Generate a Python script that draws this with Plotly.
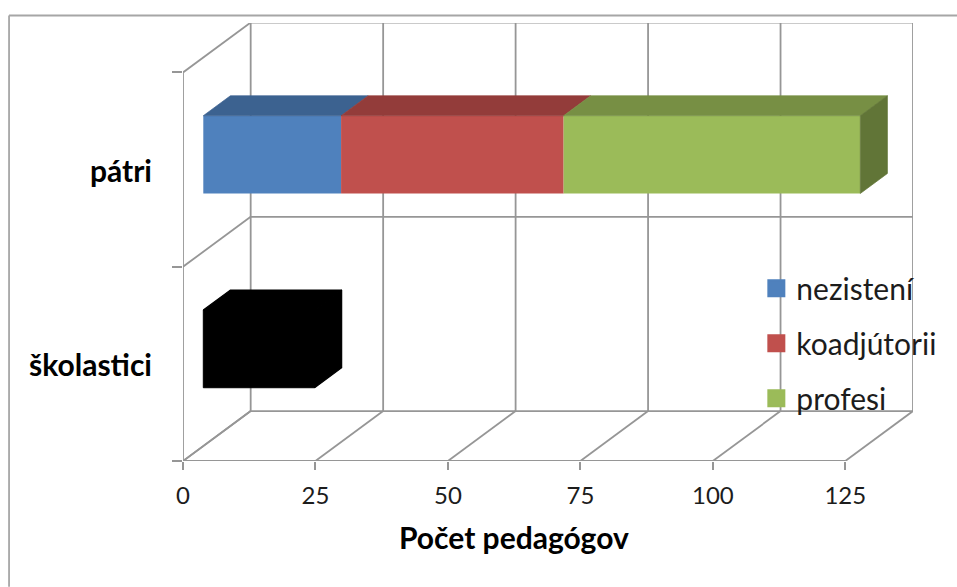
import plotly.graph_objects as go

categories = ["školastici", "pátri"]
series_names = ["nezistení", "koadjútorii", "profesi"]
nezisteni = [21, 26]
koadjutorii = [0, 42]
profesi = [0, 56]
x_ticks = [0, 25, 50, 75, 100, 125]
axis_title = "Počet pedagógov"

front_colors = {"nezistení": ["#000000", "#4f81bd"], "koadjútorii": ["#000000", "#c0504d"], "profesi": ["#000000", "#9bbb59"]}
top_colors = {"nezistení": ["#000000", "#3c6290"], "koadjútorii": ["#000000", "#933c3a"], "profesi": ["#000000", "#778f44"]}
side_colors = {"nezistení": ["#000000", "#31506f"], "koadjútorii": ["#000000", "#78312f"], "profesi": ["#000000", "#617537"]}
legend_colors = ["#4f81bd", "#c0504d", "#9bbb59"]

W, H = 957, 587
L, R, T, B = 182.5, 912.7, 22.5, 461.0
PX_X = (845 - 182.5) / 125
PX_Y = (461 - 72) / 2
DX = (912.7 - 845) / PX_X   # depth of the box in x units
DY = 50 / PX_Y              # depth of the box in y units
GAP, BAR_D, BAR_H = 0.3, 0.4, 0.4
GRID = "#969696"
DARK = "#1c1c1c"
FONT = "Lato"

fig = go.Figure()
shapes = []


def seg(x0, y0, x1, y1):
    shapes.append(dict(type="line", xref="x", yref="y", x0=x0, y0=y0, x1=x1, y1=y1,
                       layer="below", line=dict(color=GRID, width=1.8)))


for t in x_ticks:
    seg(t, 0, t + DX, DY)
    seg(t + DX, DY, t + DX, 2 + DY)
for lvl in range(len(categories) + 1):
    seg(0, lvl, DX, lvl + DY)
    seg(DX, lvl + DY, x_ticks[-1] + DX, lvl + DY)
seg(0, 0, 0, 2)
seg(0, 0, x_ticks[-1], 0)

# outer chart border (paper coordinates)
def px(v):
    return (v - L) / (R - L)

def py(v):
    return (B - v) / (B - T)

for x0, y0, x1, y1 in [(8.5, 15, 957, 15), (8.5, 15, 8.5, 587)]:
    shapes.append(dict(type="line", xref="paper", yref="paper", x0=px(x0), y0=py(y0), x1=px(x1), y1=py(y1),
                       layer="below", line=dict(color="#a6a6a6", width=1.8)))

values = {"nezistení": nezisteni, "koadjútorii": koadjutorii, "profesi": profesi}
offs_x, offs_y = GAP * DX, GAP * DY
bar_y = [i + 0.5 + offs_y for i in range(len(categories))]
cum = [0.0 for _ in categories]


def poly(xs, ys, color):
    fig.add_trace(go.Scatter(x=xs, y=ys, mode="lines", fill="toself", fillcolor=color,
                             line=dict(width=1.2 if color == "#000000" else 0.7, color=color),
                             hoverinfo="skip", showlegend=False))


for name in series_names:
    vals = values[name]
    fig.add_trace(go.Bar(orientation="h", y=bar_y, x=vals, base=[c + offs_x for c in cum], width=BAR_H,
                         marker=dict(color=front_colors[name], line=dict(width=[1, 0], color=front_colors[name])),
                         showlegend=False, name=name))
    for i, v in enumerate(vals):
        if v == 0:
            continue
        x0, x1 = cum[i] + offs_x, cum[i] + v + offs_x
        y_top = bar_y[i] + BAR_H / 2
        y_bot = bar_y[i] - BAR_H / 2
        ddx, ddy = BAR_D * DX, BAR_D * DY
        poly([x0, x0 + ddx, x1 + ddx, x1, x0], [y_top, y_top + ddy, y_top + ddy, y_top, y_top], top_colors[name][i])
        if name == "profesi" or i == 0:
            poly([x1, x1 + ddx, x1 + ddx, x1, x1],
                 [y_top, y_top + ddy, y_bot + ddy, y_bot, y_top], side_colors[name][i])
        cum[i] += v

for name, col in zip(series_names, legend_colors):
    fig.add_trace(go.Scatter(x=[None], y=[None], mode="markers", name=name, legendgroup=name,
                             marker=dict(symbol="square", size=16, color=col, line=dict(color=col, width=2))))

fig.update_layout(
    width=W, height=H, autosize=False,
    margin=dict(l=L, r=W - R, t=T, b=H - B, pad=0),
    paper_bgcolor="white", plot_bgcolor="white",
    barmode="overlay",
    shapes=shapes,
    font=dict(family=FONT, color=DARK),
    showlegend=True,
    legend=dict(x=px(756), y=py(262), xanchor="left", yanchor="top", bgcolor="rgba(0,0,0,0)",
                font=dict(family=FONT, size=30, color=DARK), tracegroupgap=13, traceorder="grouped", itemclick=False),
    xaxis=dict(range=[0, (R - L) / PX_X], tickvals=x_ticks, ticktext=[str(t) for t in x_ticks],
               ticks="outside", ticklen=8, tickwidth=1.8, tickcolor=GRID, showgrid=False, zeroline=False,
               showline=False, ticklabelstandoff=5, tickfont=dict(family=FONT, size=24, color=DARK)),
    yaxis=dict(range=[0, (B - T) / PX_Y], tickvals=[0.49, 1.49], ticktext=categories,
               ticks="", showgrid=False, zeroline=False, showline=False, ticklabelstandoff=30,
               tickfont=dict(family=FONT, size=30, color="#000000", weight="bold"),
               minor=dict(tickvals=[0, 1, 2], ticks="outside", ticklen=10, tickwidth=1.8, tickcolor=GRID, showgrid=False)),
    annotations=[dict(text=axis_title, x=sum([x_ticks[0], x_ticks[-1]]) / 2, xref="x", y=py(537), yref="paper",
                      showarrow=False, font=dict(family=FONT, size=30, color="#000000", weight="bold"),
                      xanchor="center", yanchor="middle")],
)

fig.write_html("out.html", config=dict(displayModeBar=False),
               post_script="document.body.style.margin='0';window.dispatchEvent(new Event('resize'));")
